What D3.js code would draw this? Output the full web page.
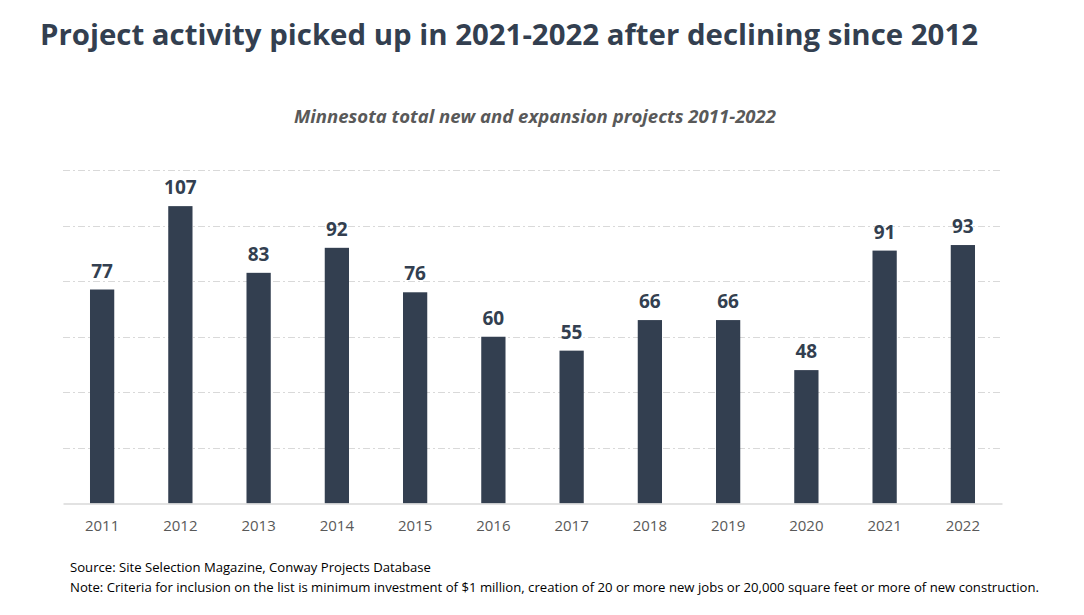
<!DOCTYPE html>
<html><head><meta charset="utf-8">
<script src="https://cdn.jsdelivr.net/npm/d3@7"></script>
<style>body{margin:0;background:#fff;} svg{display:block;}</style>
</head><body>
<svg id="c" width="1084" height="615"></svg>
<script>
const years = ["2011","2012","2013","2014","2015","2016","2017","2018","2019","2020","2021","2022"];
const projects = [77,107,83,92,76,60,55,66,66,48,91,93];
const yTicks = [20,40,60,80,100,120];
const titleText = "Project activity picked up in 2021-2022 after declining since 2012";
const subtitleText = "Minnesota total new and expansion projects 2011-2022";
const sourceText = "Source: Site Selection Magazine, Conway Projects Database";
const noteText = "Note: Criteria for inclusion on the list is minimum investment of $1 million, creation of 20 or more new jobs or 20,000 square feet or more of new construction.";

const svg = d3.select("#c");
const font = "'Open Sans', sans-serif";
const dark = "#333f50";

const x = d3.scaleBand().domain(years).range([63,1002]).paddingInner(0.69).paddingOuter(0.345);
const y = d3.scaleLinear().domain([0,120]).range([503.5,170]);

svg.append("text").attr("x",40).attr("y",45).attr("font-family",font).attr("font-weight",700)
  .attr("font-size",29).attr("fill",dark).attr("textLength",938).attr("lengthAdjust","spacingAndGlyphs").text(titleText);
svg.append("text").attr("x",294).attr("y",123).attr("font-family",font).attr("font-weight",700).attr("font-style","italic")
  .attr("font-size",17).attr("fill","#595959").attr("textLength",482).attr("lengthAdjust","spacingAndGlyphs").text(subtitleText);

// gridlines
svg.append("g").selectAll("line").data(yTicks).join("line")
  .attr("x1",63).attr("x2",1002).attr("y1",d=>Math.round(y(d))+0.5).attr("y2",d=>Math.round(y(d))+0.5)
  .attr("stroke","#d9d9d9").attr("stroke-width",1).attr("stroke-dasharray","7,3,2,3");

// bars
svg.append("g").selectAll("rect").data(projects).join("rect")
  .attr("x",(d,i)=>x(years[i])).attr("width",x.bandwidth())
  .attr("y",d=>y(d)).attr("height",d=>y(0)-y(d)).attr("fill",dark);

// baseline axis
const xAxis = svg.append("g").attr("transform",`translate(0,${y(0)})`)
  .call(d3.axisBottom(x).tickSize(0).tickPadding(17));
xAxis.select(".domain").attr("stroke","#d9d9d9").attr("stroke-width",1.5);
xAxis.selectAll("text").attr("font-family",font).attr("font-size",15).attr("fill","#595959");

// labels
svg.append("g").selectAll("text").data(projects).join("text")
  .attr("x",(d,i)=>x(years[i])+x.bandwidth()/2).attr("y",d=>y(d)-12)
  .attr("text-anchor","middle").attr("font-family",font).attr("font-weight",700)
  .attr("font-size",19).attr("fill",dark).text(d=>d);

svg.append("text").attr("x",70).attr("y",572).attr("font-family",font).attr("font-size",12.5).attr("fill","#000")
  .attr("textLength",361).attr("lengthAdjust","spacingAndGlyphs").text(sourceText);
svg.append("text").attr("x",70).attr("y",592).attr("font-family",font).attr("font-size",12.5).attr("fill","#000")
  .attr("textLength",969).attr("lengthAdjust","spacingAndGlyphs").text(noteText);
</script>
</body></html>
